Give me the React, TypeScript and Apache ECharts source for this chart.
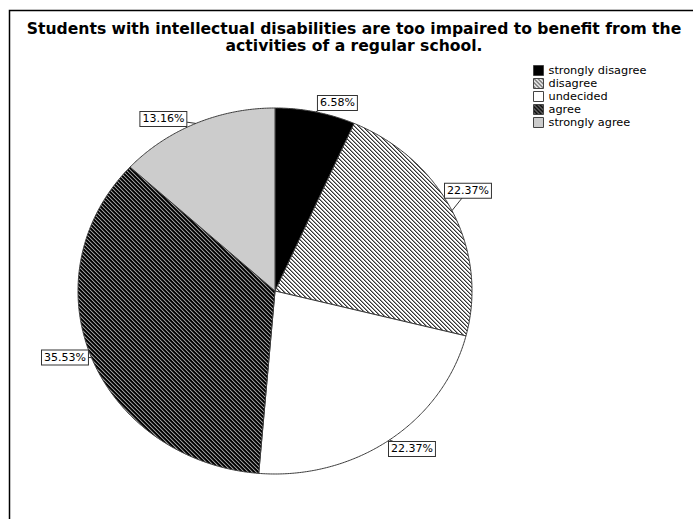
import React, { useEffect, useRef } from 'react';
import * as echarts from 'echarts';

const categories = ['strongly disagree', 'disagree', 'undecided', 'agree', 'strongly agree'];
const counts = [5, 17, 17, 27, 10];
const percentLabels = ['6.58%', '22.37%', '22.37%', '35.53%', '13.16%'];
const titleLines = [
  'Students with intellectual disabilities are too impaired to benefit from the',
  'activities of a regular school.',
];

// geometry / style (not data)
const CX = 275;
const CY = 291;
const RX = 197;
const RY = 183;
const labelNudge: [number, number][] = [
  [22, -9],
  [16, -20],
  [22.5, 9],
  [-26.5, 0],
  [-32.5, -4.5],
];

function makeHatch(colors: string[]) {
  const n = colors.length;
  const c = document.createElement('canvas');
  c.width = n;
  c.height = n;
  const ctx = c.getContext('2d')!;
  for (let y = 0; y < n; y++) {
    for (let x = 0; x < n; x++) {
      const d = (((x - y) % n) + n) % n;
      ctx.fillStyle = colors[d];
      ctx.fillRect(x, y, 1, 1);
    }
  }
  return { image: c, repeat: 'repeat', imageWidth: n, imageHeight: n } as any;
}

export default function App() {
  const ref = useRef<HTMLDivElement>(null);
  useEffect(() => {
    if (!ref.current) return;
    const chart = echarts.init(ref.current, undefined, { renderer: 'svg' });
    const fills: any[] = [
      '#000000',
      makeHatch(['#333333', '#999999', '#ffffff', '#ffffff']),
      '#ffffff',
      makeHatch(['#999999', '#333333', '#000000', '#111111']),
      '#cccccc',
    ];
    const total = counts.reduce((a, b) => a + b, 0);
    const series = categories.map((name, i) => ({
      type: 'custom',
      name,
      coordinateSystem: 'none',
      data: [[counts[i]]],
      renderItem: (params: any, api: any) => {
        const idx = params.seriesIndex;
        let start = 0;
        for (let k = 0; k < idx; k++) start += counts[k];
        const v = api.value(0);
        const a0 = (start / total) * Math.PI * 2;
        const a1 = ((start + v) / total) * Math.PI * 2;
        const steps = Math.max(2, Math.ceil((a1 - a0) / (Math.PI / 360)));
        const pts: number[][] = [[CX, CY]];
        for (let s = 0; s <= steps; s++) {
          const t = a0 + ((a1 - a0) * s) / steps;
          pts.push([CX + RX * Math.sin(t), CY - RY * Math.cos(t)]);
        }
        const am = (a0 + a1) / 2;
        const ex = CX + RX * Math.sin(am);
        const ey = CY - RY * Math.cos(am);
        const lx = ex + labelNudge[idx][0];
        const ly = ey + labelNudge[idx][1];
        return {
          type: 'group',
          children: [
            {
              type: 'polygon',
              shape: { points: pts },
              style: { fill: fills[idx], stroke: '#3c3c3c', lineWidth: 1 },
              z2: 1,
            },
            {
              type: 'line',
              shape: { x1: ex, y1: ey, x2: lx, y2: ly },
              style: { stroke: '#333333', lineWidth: 1 },
              z2: 5,
            },
            {
              type: 'text',
              x: lx,
              y: ly,
              style: {
                text: percentLabels[idx],
                align: 'center',
                verticalAlign: 'middle',
                font: '11px "DejaVu Sans"',
                fill: '#000000',
                backgroundColor: '#ffffff',
                borderColor: '#333333',
                borderWidth: 1,
                padding: [2, 2, 1, 2],
              },
              z2: 10,
            },
          ],
        };
      },
    }));

    chart.setOption({
      animation: false,
      title: {
        text: titleLines.join('\n'),
        left: 354,
        top: 20,
        textAlign: 'center',
        padding: 0,
        textStyle: {
          fontSize: 15.6,
          fontWeight: 'bold',
          fontFamily: '"DejaVu Sans"',
          color: '#000000',
          lineHeight: 17,
        },
      },
      legend: {
        orient: 'vertical',
        left: 533,
        top: 65,
        padding: 0,
        itemWidth: 10,
        itemHeight: 10,
        itemGap: 2,
        icon: 'rect',
        selectedMode: false,
        textStyle: { fontSize: 11.3, fontFamily: '"DejaVu Sans"', color: '#000000', lineHeight: 11 },
        data: categories.map((n, i) => ({
          name: n,
          itemStyle: { color: fills[i], borderColor: '#444444', borderWidth: 1 },
        })),
      },
      graphic: [
        {
          type: 'rect',
          silent: true,
          shape: { x: 9.5, y: 10.5, width: 700, height: 520 },
          style: { fill: 'none', stroke: '#000000', lineWidth: 1.5 },
          z: 100,
        },
      ],
      series,
    });
    return () => chart.dispose();
  }, []);
  return (
    <div
      ref={ref}
      style={{ position: 'fixed', left: 0, top: 0, width: 693, height: 519, background: '#ffffff' }}
    />
  );
}
